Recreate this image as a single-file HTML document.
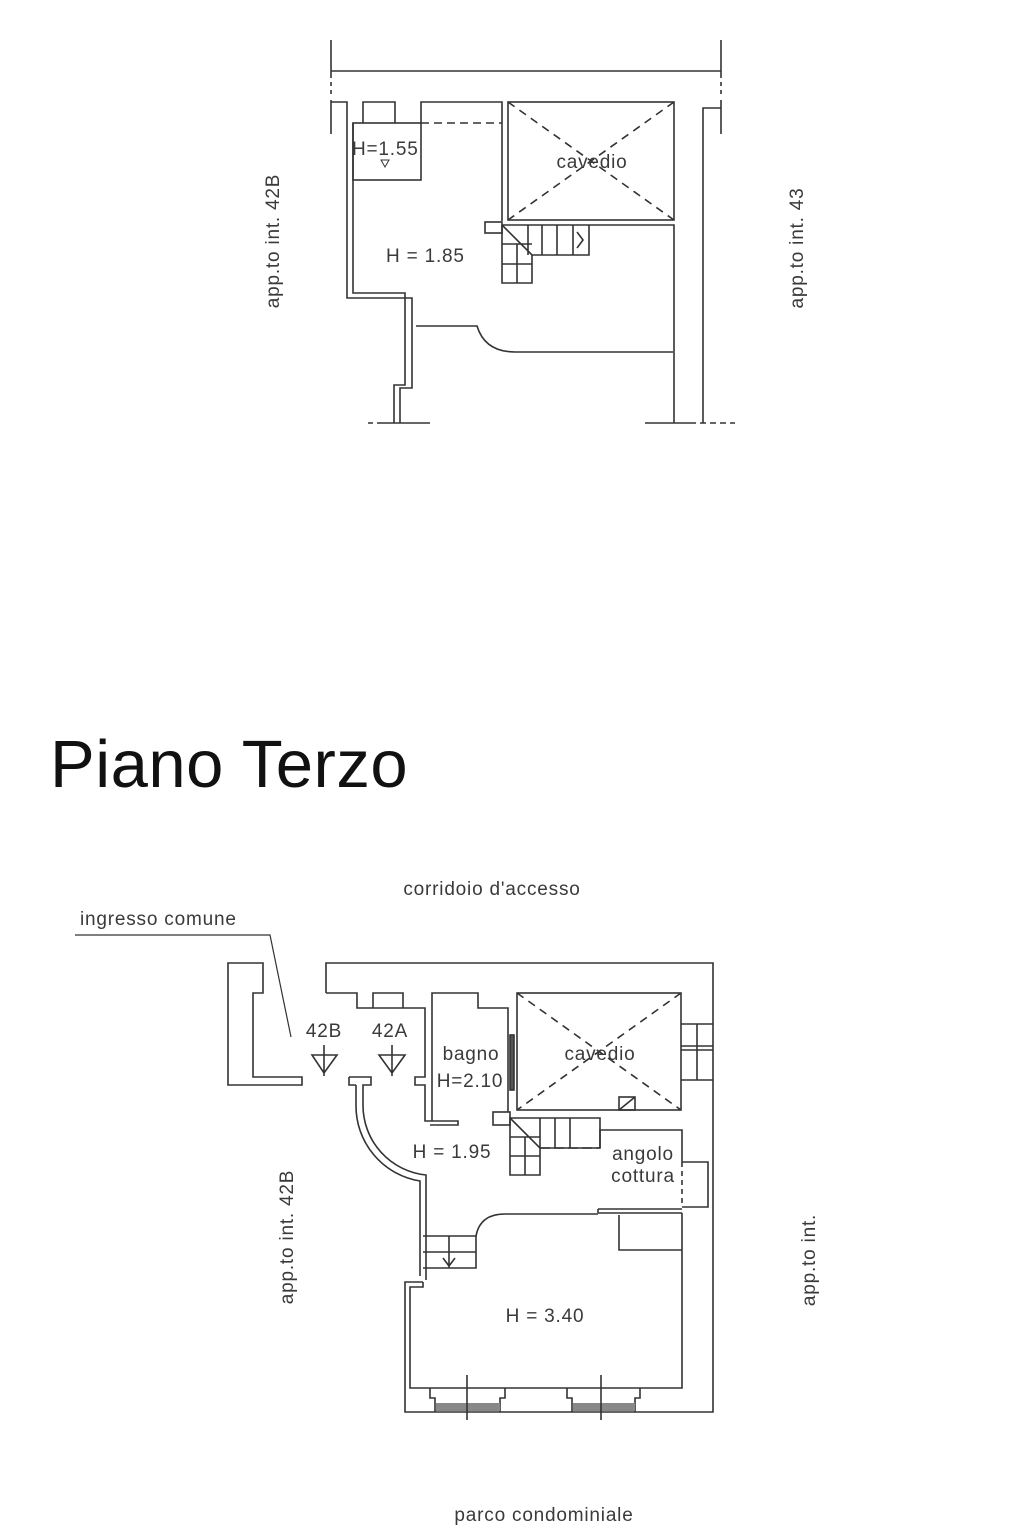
<!DOCTYPE html>
<html><head><meta charset="utf-8"><style>
html,body{margin:0;padding:0;background:#fff;}
svg{display:block;}
text{font-family:"Liberation Sans",sans-serif;fill:#3a3a3a;}
</style></head><body>
<svg width="1024" height="1536" viewBox="0 0 1024 1536" xmlns="http://www.w3.org/2000/svg">
<g fill="none" stroke="#333" stroke-width="1.6">
<!-- TOP PLAN -->
<line x1="331" y1="71" x2="721" y2="71"/>
<line x1="331" y1="40" x2="331" y2="78"/>
<line x1="721" y1="40" x2="721" y2="78"/>
<line x1="331" y1="82" x2="331" y2="96" stroke-dasharray="4 4"/>
<line x1="721" y1="82" x2="721" y2="96" stroke-dasharray="4 4"/>
<line x1="331" y1="100" x2="331" y2="134"/>
<line x1="721" y1="100" x2="721" y2="134"/>
<polyline points="331,102 347,102 347,298 412,298 412,388 400,388 400,423"/>
<polyline points="353,123 353,293 405,293 405,385 394,385 394,423"/>
<polyline points="363,123 363,102 395,102 395,123"/>
<polyline points="421,123 421,102 502,102 502,221"/>
<rect x="353" y="123" width="68" height="57"/>
<line x1="421" y1="123" x2="502" y2="123" stroke-dasharray="8 5"/>
<rect x="508" y="102" width="166" height="118"/>
<line x1="508" y1="102" x2="674" y2="220" stroke-dasharray="8 6"/>
<line x1="674" y1="102" x2="508" y2="220" stroke-dasharray="8 6"/>
<polyline points="502,225 674,225 674,423"/>
<polyline points="721,108 703,108 703,423"/>
<rect x="485" y="222" width="17" height="11"/>
<path d="M502,225 V283 H532 V255 H589 V225 M502,244 H532 M502,264 H532 M517,244 V283 M528,225 V255 M542,225 V255 M557,225 V255 M573,225 V255 M502,225 L532,255 M577,232 L583,240 L577,248"/>
<path d="M416,326 H477 Q485,352 515,352 H673"/>
<line x1="368" y1="423" x2="380" y2="423" stroke-dasharray="5 4"/>
<line x1="380" y1="423" x2="430" y2="423"/>
<line x1="645" y1="423" x2="690" y2="423"/>
<line x1="690" y1="423" x2="735" y2="423" stroke-dasharray="6 4"/>
<path d="M381,160 L389,160 L385,167 Z" stroke-width="1"/>

<!-- BOTTOM PLAN -->
<polyline points="75,935 270,935 291,1037" stroke-width="1.2"/>
<polygon points="228,963 263,963 263,993 253,993 253,1077 302,1077 302,1085 228,1085"/>
<polyline points="326,993 326,963 713,963 713,1412 405,1412 405,1282 423,1282"/>
<polyline points="326,993 357,993 357,1008 425,1008 425,1077 415,1077 415,1085 425,1085 425,1121 458,1121 458,1125 430,1125"/>
<polyline points="373,1008 373,993 403,993 403,1008"/>
<polyline points="432,1121 432,993 478,993 478,1008 508,1008 508,1112"/>
<rect x="510" y="1035" width="4" height="55" fill="#555"/>
<rect x="517" y="993" width="164" height="117"/>
<line x1="517" y1="993" x2="681" y2="1110" stroke-dasharray="8 6"/>
<line x1="681" y1="993" x2="517" y2="1110" stroke-dasharray="8 6"/>
<rect x="619" y="1097" width="16" height="13"/>
<line x1="619" y1="1110" x2="635" y2="1097"/>
<path d="M681,1024 H713 M681,1080 H713 M681,1046 H713 M681,1050 H713 M697,1024 V1080"/>
<rect x="493" y="1112" width="17" height="13"/>
<path d="M510,1118 V1175 H540 V1148 H600 V1118 Z M510,1137 H540 M510,1156 H540 M525,1137 V1175 M540,1118 V1148 M555,1118 V1148 M570,1118 V1148 M510,1118 L540,1148"/>
<line x1="540" y1="1148" x2="600" y2="1148" stroke-dasharray="10 4"/>
<polyline points="600,1148 600,1130 682,1130 682,1162"/>
<polyline points="682,1162 708,1162 708,1207 682,1207"/>
<line x1="682" y1="1162" x2="682" y2="1207" stroke-dasharray="5 4"/>
<path d="M349,1077 H371 V1085 H363 V1105 A70,70 0 0 0 426,1175 V1280 M356,1085 V1105 A76,76 0 0 0 420,1181 V1276 M349,1077 V1085 H356"/>
<polyline points="423,1282 423,1287 410,1287 410,1388 682,1388 682,1213"/>
<path d="M598,1213 H682 M598,1209 H682 M598,1209 V1213"/>
<path d="M476,1236 Q480,1214 505,1214 H598"/>
<path d="M423,1236 H476 V1268 H423 M423,1252 H476 M449,1236 V1268 M443,1258 L449,1266 L455,1258"/>
<polyline points="619,1215 619,1250 682,1250"/>
<path d="M430,1388 V1398 H435 V1412 M505,1388 V1398 H500 V1412 M567,1388 V1398 H572 V1412 M640,1388 V1398 H635 V1412"/>
<rect x="436" y="1403" width="64" height="8" fill="#888" stroke="none"/>
<rect x="573" y="1403" width="62" height="8" fill="#888" stroke="none"/>
<line x1="467" y1="1375" x2="467" y2="1420"/>
<line x1="601" y1="1375" x2="601" y2="1420"/>
<path d="M312,1055 H337 L324,1073 Z M324,1045 V1076 M379,1055 H405 L392,1073 Z M392,1045 V1076"/>
</g>
<g font-size="19" letter-spacing="0.8">
<text x="352" y="155">H=1.55</text>
<text x="592" y="168" text-anchor="middle">cavedio</text>
<text x="386" y="262">H = 1.85</text>
<text transform="translate(279,241) rotate(-90)" text-anchor="middle">app.to int. 42B</text>
<text transform="translate(803,248) rotate(-90)" text-anchor="middle">app.to int. 43</text>
<text x="50" y="787" font-size="67" letter-spacing="0.5" style="fill:#111">Piano Terzo</text>
<text x="492" y="895" text-anchor="middle">corridoio d'accesso</text>
<text x="80" y="925">ingresso comune</text>
<text x="324" y="1037" text-anchor="middle">42B</text>
<text x="390" y="1037" text-anchor="middle">42A</text>
<text x="471" y="1060" text-anchor="middle">bagno</text>
<text x="470" y="1087" text-anchor="middle">H=2.10</text>
<text x="600" y="1060" text-anchor="middle">cavedio</text>
<text x="452" y="1158" text-anchor="middle">H = 1.95</text>
<text x="643" y="1160" text-anchor="middle">angolo</text>
<text x="643" y="1182" text-anchor="middle">cottura</text>
<text x="545" y="1322" text-anchor="middle">H = 3.40</text>
<text transform="translate(293,1237) rotate(-90)" text-anchor="middle">app.to int. 42B</text>
<text transform="translate(815,1260) rotate(-90)" text-anchor="middle">app.to int.</text>
<text x="544" y="1521" text-anchor="middle">parco condominiale</text>
</g>
</svg>
</body></html>
